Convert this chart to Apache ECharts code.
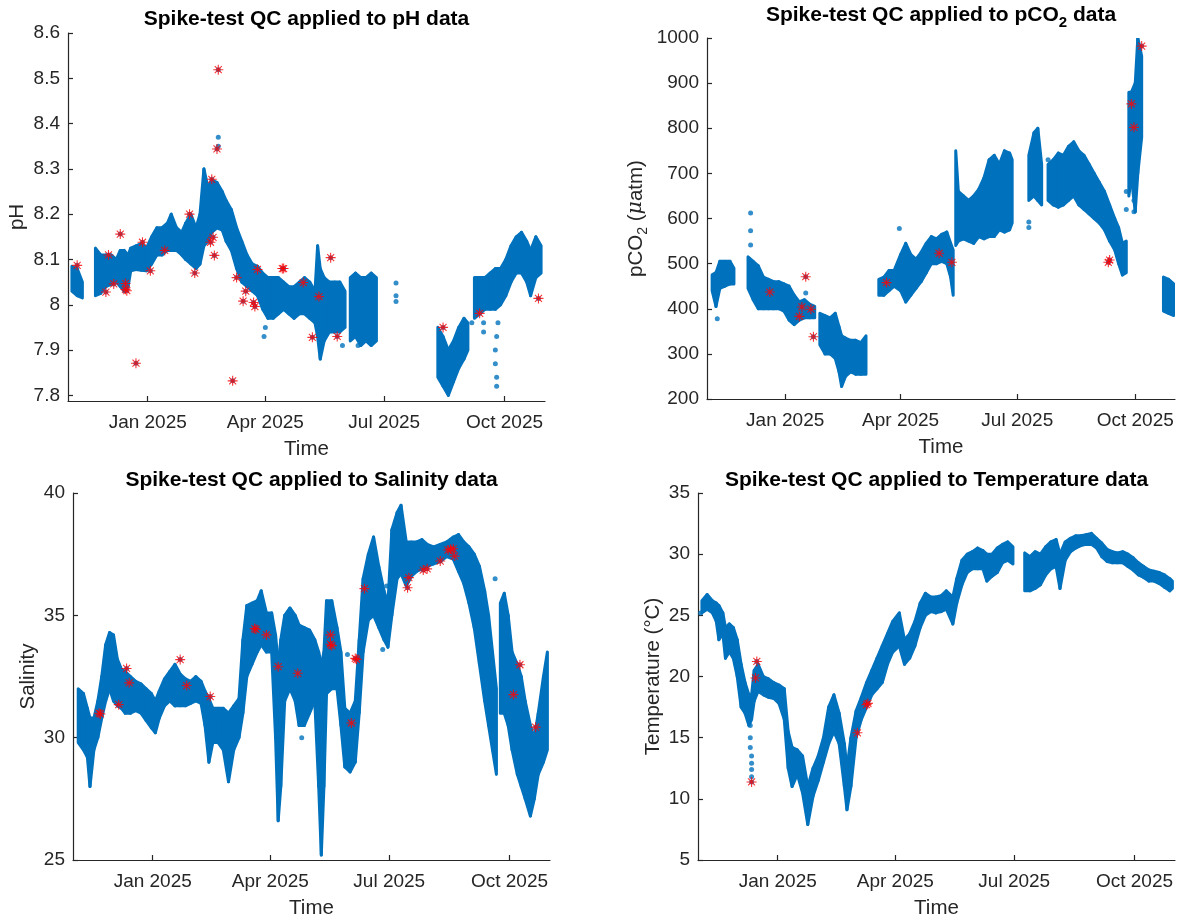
<!DOCTYPE html>
<html>
<head>
<meta charset="utf-8">
<script src="https://cdn.jsdelivr.net/npm/echarts@6/dist/echarts.min.js"></script>
<style>
html,body{margin:0;padding:0;background:#fff;}
#chart{width:1180px;height:920px;}
</style>
</head>
<body>
<div id="chart"></div>
<script>
// ---------- tick labels ----------
const monthTicks = ['2025-01-01', '2025-04-01', '2025-07-01', '2025-10-01'];
const monthLabels = ['Jan 2025', 'Apr 2025', 'Jul 2025', 'Oct 2025'];
const phTicks = [7.8, 7.9, 8, 8.1, 8.2, 8.3, 8.4, 8.5, 8.6];

// ---------- pH ----------
// cloud envelope: [date, low, high]; null = gap
const phBand = [
  ['2024-11-04', 8.03, 8.085], ['2024-11-08', 8.02, 8.08], ['2024-11-12', 8.015, 8.05], null,
  ['2024-11-22', 8.02, 8.125], ['2024-11-26', 8.025, 8.11], ['2024-11-30', 8.04, 8.11], ['2024-12-04', 8.045, 8.11],
  ['2024-12-08', 8.05, 8.1], ['2024-12-11', 8.04, 8.12], ['2024-12-14', 8.03, 8.12], ['2024-12-17', 8.04, 8.11],
  ['2024-12-19', 8.075, 8.125], ['2024-12-23', 8.078, 8.13], ['2024-12-27', 8.076, 8.135], ['2024-12-31', 8.075, 8.125],
  ['2025-01-04', 8.09, 8.15], ['2025-01-08', 8.11, 8.17], ['2025-01-12', 8.11, 8.17], ['2025-01-16', 8.12, 8.18],
  ['2025-01-19', 8.12, 8.2], ['2025-01-23', 8.12, 8.17], ['2025-01-27', 8.11, 8.16], ['2025-01-30', 8.1, 8.18],
  ['2025-02-03', 8.09, 8.2], ['2025-02-07', 8.08, 8.17], ['2025-02-10', 8.09, 8.2], ['2025-02-13', 8.13, 8.3],
  ['2025-02-16', 8.14, 8.26], ['2025-02-19', 8.16, 8.275], ['2025-02-23', 8.17, 8.27], ['2025-02-27', 8.165, 8.25],
  ['2025-03-02', 8.14, 8.23], ['2025-03-06', 8.12, 8.21], ['2025-03-10', 8.08, 8.17], ['2025-03-14', 8.05, 8.14],
  ['2025-03-18', 8.04, 8.11], ['2025-03-22', 8.03, 8.09], ['2025-03-26', 8.02, 8.085], ['2025-03-30', 7.99, 8.07],
  ['2025-04-03', 7.97, 8.06], ['2025-04-07', 7.97, 8.06], ['2025-04-11', 7.98, 8.06], ['2025-04-15', 7.99, 8.05],
  ['2025-04-19', 7.98, 8.04], ['2025-04-23', 7.97, 8.04], ['2025-04-27', 7.98, 8.05], ['2025-05-01', 7.98, 8.06],
  ['2025-05-05', 7.97, 8.05], ['2025-05-09', 7.96, 8.03], ['2025-05-11', 7.93, 8.13], ['2025-05-13', 7.88, 8.08],
  ['2025-05-16', 7.92, 8.06], ['2025-05-20', 7.94, 8.05], ['2025-05-24', 7.94, 8.05], ['2025-05-28', 7.94, 8.05],
  ['2025-06-01', 7.95, 8.03], null,
  ['2025-06-05', 7.92, 8.06], ['2025-06-09', 7.93, 8.07], ['2025-06-13', 7.91, 8.06], ['2025-06-17', 7.92, 8.06],
  ['2025-06-21', 7.91, 8.07], ['2025-06-25', 7.92, 8.06], null,
  ['2025-08-11', 7.84, 7.95], ['2025-08-15', 7.82, 7.93], ['2025-08-19', 7.8, 7.9], ['2025-08-23', 7.83, 7.92],
  ['2025-08-27', 7.86, 7.95], ['2025-08-31', 7.88, 7.97], ['2025-09-03', 7.9, 7.96], null,
  ['2025-09-08', 7.97, 8.06], ['2025-09-12', 7.98, 8.06], ['2025-09-16', 7.99, 8.06], ['2025-09-20', 7.99, 8.07],
  ['2025-09-24', 7.99, 8.08], ['2025-09-28', 8.0, 8.08], ['2025-10-02', 8.02, 8.1], ['2025-10-06', 8.05, 8.13],
  ['2025-10-10', 8.07, 8.15], ['2025-10-14', 8.07, 8.16], ['2025-10-18', 8.05, 8.14], ['2025-10-21', 8.02, 8.12],
  ['2025-10-25', 8.06, 8.15], ['2025-10-29', 8.07, 8.13]
];
const phDots = [
  ['2025-02-24', 8.37], ['2025-02-24', 8.35], ['2025-03-31', 7.93], ['2025-07-10', 8.048], ['2025-07-10', 8.02],
  ['2025-07-10', 8.007], ['2025-09-25', 7.82], ['2025-09-25', 7.84], ['2025-09-24', 7.87], ['2025-09-24', 7.9],
  ['2025-09-25', 7.93], ['2025-09-26', 7.96], ['2025-09-15', 7.96], ['2025-09-15', 7.94], ['2025-09-06', 7.96],
  ['2025-06-11', 7.91], ['2025-05-30', 7.91], ['2025-04-01', 7.95], ['2025-03-26', 8.04], ['2025-03-22', 8.05]
];
const phSpikes = [
  ['2024-11-08', 8.087], ['2024-11-30', 8.028], ['2024-12-02', 8.11], ['2024-12-06', 8.046], ['2024-12-11', 8.156],
  ['2024-12-15', 8.047], ['2024-12-15', 8.034], ['2024-12-16', 8.031], ['2024-12-23', 7.871], ['2024-12-28', 8.138],
  ['2025-01-03', 8.075], ['2025-01-14', 8.12], ['2025-02-02', 8.2], ['2025-02-06', 8.07], ['2025-02-19', 8.277],
  ['2025-02-18', 8.138], ['2025-02-20', 8.149], ['2025-02-21', 8.109], ['2025-02-23', 8.344], ['2025-02-24', 8.519],
  ['2025-03-07', 7.832], ['2025-03-10', 8.06], ['2025-03-15', 8.008], ['2025-03-17', 8.03], ['2025-03-23', 8.005],
  ['2025-03-24', 7.996], ['2025-03-26', 8.078], ['2025-04-07', 7.786], ['2025-04-14', 8.08], ['2025-04-15', 8.08],
  ['2025-04-30', 8.049], ['2025-05-07', 7.928], ['2025-05-12', 8.018], ['2025-05-21', 8.104], ['2025-05-26', 7.93],
  ['2025-08-15', 7.95], ['2025-09-12', 7.981], ['2025-10-27', 8.014]
];

// ---------- pCO2 ----------
const co2Band = [
  ['2024-11-05', 440, 475], ['2024-11-08', 405, 480], ['2024-11-11', 445, 505], ['2024-11-15', 450, 505],
  ['2024-11-19', 455, 505], ['2024-11-22', 455, 490], null,
  ['2024-12-03', 445, 515], ['2024-12-07', 420, 505], ['2024-12-11', 400, 495], ['2024-12-15', 400, 470],
  ['2024-12-19', 400, 465], ['2024-12-23', 400, 460], ['2024-12-27', 400, 460], ['2024-12-31', 395, 455],
  ['2025-01-04', 375, 450], ['2025-01-08', 365, 430], ['2025-01-12', 375, 415], ['2025-01-16', 380, 420],
  ['2025-01-20', 380, 410], ['2025-01-24', 380, 405], null,
  ['2025-01-28', 320, 390], ['2025-02-01', 300, 385], ['2025-02-05', 300, 380], ['2025-02-09', 290, 390],
  ['2025-02-12', 260, 360], ['2025-02-14', 228, 340], ['2025-02-17', 250, 335], ['2025-02-21', 260, 330],
  ['2025-02-25', 255, 330], ['2025-03-01', 255, 325], ['2025-03-05', 255, 340], null,
  ['2025-03-15', 430, 465], ['2025-03-19', 430, 470], ['2025-03-23', 440, 485], ['2025-03-27', 450, 485],
  ['2025-04-01', 440, 520], ['2025-04-05', 415, 545], ['2025-04-09', 430, 520], ['2025-04-13', 445, 510],
  ['2025-04-17', 460, 525], ['2025-04-21', 480, 545], ['2025-04-25', 500, 560], ['2025-04-29', 500, 555],
  ['2025-05-03', 505, 565], ['2025-05-07', 500, 570], ['2025-05-10', 470, 545], ['2025-05-12', 430, 530], null,
  ['2025-05-14', 540, 750], ['2025-05-16', 550, 660], ['2025-05-20', 555, 650], ['2025-05-24', 550, 640],
  ['2025-05-28', 545, 650], ['2025-06-01', 560, 665], ['2025-06-05', 555, 690], ['2025-06-09', 560, 730],
  ['2025-06-13', 560, 740], ['2025-06-17', 575, 720], ['2025-06-21', 570, 750], ['2025-06-25', 575, 745],
  ['2025-06-27', 590, 730], null,
  ['2025-07-10', 640, 740], ['2025-07-14', 650, 790], ['2025-07-17', 640, 800], ['2025-07-20', 630, 720], null,
  ['2025-07-25', 640, 720], ['2025-07-29', 630, 730], ['2025-08-02', 625, 745], ['2025-08-06', 630, 740],
  ['2025-08-10', 640, 760], ['2025-08-14', 650, 770], ['2025-08-18', 630, 750], ['2025-08-22', 620, 740],
  ['2025-08-26', 610, 720], ['2025-08-30', 600, 700], ['2025-09-03', 590, 680], ['2025-09-07', 575, 660],
  ['2025-09-11', 550, 630], ['2025-09-15', 530, 600], ['2025-09-18', 500, 580], ['2025-09-21', 475, 545],
  ['2025-09-24', 480, 550], null,
  ['2025-09-26', 650, 880], ['2025-09-28', 690, 880], ['2025-10-01', 615, 900], ['2025-10-03', 700, 1000],
  ['2025-10-06', 780, 960], null,
  ['2025-10-23', 395, 470], ['2025-10-27', 390, 465], ['2025-10-31', 385, 455]
];
const co2Dots = [
  ['2024-11-09', 378], ['2024-12-05', 612], ['2024-12-05', 573], ['2024-12-05', 541], ['2024-12-05', 500],
  ['2025-03-31', 578], ['2025-07-10', 580], ['2025-07-10', 592], ['2025-07-25', 730], ['2025-09-24', 660],
  ['2025-09-24', 620], ['2025-09-30', 640], ['2025-09-30', 615], ['2025-01-17', 435]
];
const co2Spikes = [
  ['2024-12-20', 437], ['2025-01-12', 383], ['2025-01-14', 404], ['2025-01-17', 471], ['2025-01-21', 399],
  ['2025-01-23', 338], ['2025-03-21', 458], ['2025-05-01', 523], ['2025-05-11', 503], ['2025-09-10', 503],
  ['2025-09-11', 508], ['2025-09-28', 854], ['2025-09-30', 802], ['2025-10-06', 982]
];

// ---------- Salinity ----------
const salBand = [
  ['2024-11-05', 29.8, 32], ['2024-11-09', 29.5, 31.8], ['2024-11-12', 29.2, 31.2], ['2024-11-14', 28, 30.8],
  ['2024-11-17', 29.5, 30.8], ['2024-11-20', 30, 31.5], ['2024-11-23', 30.8, 32.5], ['2024-11-26', 31.5, 33.8],
  ['2024-11-29', 32, 34.3], ['2024-12-02', 31.5, 34.2], ['2024-12-05', 31.3, 33.2], ['2024-12-08', 31.2, 32.8],
  ['2024-12-11', 31, 32.7], ['2024-12-15', 31, 32.5], ['2024-12-19', 31.1, 32.3], ['2024-12-23', 31, 32.2],
  ['2024-12-27', 30.7, 32], ['2024-12-31', 30.4, 31.8], ['2025-01-03', 30.2, 31.5], ['2025-01-06', 30.8, 31.9],
  ['2025-01-10', 31.3, 32.4], ['2025-01-14', 31.5, 32.7], ['2025-01-18', 31.3, 33], ['2025-01-22', 31.3, 32.6],
  ['2025-01-26', 31.3, 32.4], ['2025-01-30', 31.4, 32.3], ['2025-02-03', 31.5, 32.5], ['2025-02-07', 31.4, 32.3],
  ['2025-02-10', 30.5, 31.9], ['2025-02-13', 29, 31.6], ['2025-02-16', 29.8, 31.2], ['2025-02-20', 29.8, 31.2],
  ['2025-02-24', 29.5, 31.2], ['2025-02-28', 28.2, 31], ['2025-03-04', 29.5, 31.3], ['2025-03-08', 30, 31.6],
  ['2025-03-11', 31, 34], ['2025-03-14', 32.5, 35.4], ['2025-03-18', 33, 35.5], ['2025-03-22', 33.5, 35.6],
  ['2025-03-25', 33.8, 36], ['2025-03-29', 33.5, 35.1], ['2025-04-02', 33.5, 35.1], ['2025-04-05', 30, 34.2],
  ['2025-04-07', 26.6, 33], ['2025-04-09', 28, 34], ['2025-04-12', 31.5, 35], ['2025-04-16', 32, 35.3],
  ['2025-04-20', 31.5, 35], ['2025-04-23', 30.5, 34.6], ['2025-04-27', 30.5, 34.5], ['2025-05-01', 31, 34.4],
  ['2025-05-05', 31.5, 34], ['2025-05-08', 28, 33.5], ['2025-05-10', 25.2, 33], ['2025-05-12', 28, 33.5],
  ['2025-05-14', 31.8, 35.6], ['2025-05-18', 32, 35.6], ['2025-05-22', 32, 34.5], ['2025-05-25', 30.5, 33.5],
  ['2025-05-28', 28.8, 31.2], ['2025-06-01', 28.6, 31], ['2025-06-05', 29, 31.5], ['2025-06-08', 31, 34],
  ['2025-06-11', 33.5, 36.5], ['2025-06-15', 34.8, 37.5], ['2025-06-19', 35, 38.2], ['2025-06-23', 34.5, 37],
  ['2025-06-27', 34, 36], ['2025-06-30', 33.7, 35.5], ['2025-07-03', 35, 38.5], ['2025-07-07', 36.5, 39.2],
  ['2025-07-10', 36.7, 39.5], ['2025-07-14', 36.2, 38], ['2025-07-18', 36.6, 38], ['2025-07-22', 36.8, 38],
  ['2025-07-26', 36.9, 38.1], ['2025-07-30', 37, 37.9], ['2025-08-04', 37.1, 37.8], ['2025-08-09', 37.2, 37.9],
  ['2025-08-14', 37.4, 38], ['2025-08-19', 37.3, 38.2], ['2025-08-23', 36.8, 38.3], ['2025-08-27', 36.3, 38],
  ['2025-08-31', 35.5, 37.8], ['2025-09-04', 34.5, 37.5], ['2025-09-08', 33, 37], ['2025-09-12', 31.5, 36],
  ['2025-09-15', 30.5, 35], ['2025-09-18', 29.5, 33.5], ['2025-09-21', 28.5, 32], null,
  ['2025-09-24', 31, 35.5], ['2025-09-27', 31, 35.9], ['2025-09-30', 30.5, 35], ['2025-10-03', 29.5, 33.5],
  ['2025-10-07', 28.5, 33], ['2025-10-10', 28, 32.5], ['2025-10-13', 27.5, 31.5], ['2025-10-17', 26.8, 30.5],
  ['2025-10-20', 27.5, 30], ['2025-10-23', 28.5, 31], ['2025-10-27', 29, 32.5], ['2025-10-30', 29.5, 33.5]
];
const salDots = [
  ['2025-04-25', 30], ['2025-05-30', 33.4], ['2025-09-20', 36.5], ['2025-06-29', 36.2], ['2025-06-26', 33.6]
];
const salSpikes = [
  ['2024-11-21', 31.0], ['2024-11-22', 30.97], ['2024-12-06', 31.35], ['2024-12-12', 32.83], ['2024-12-14', 32.24],
  ['2025-01-22', 33.19], ['2025-01-27', 32.13], ['2025-02-14', 31.68], ['2025-03-20', 34.46], ['2025-03-21', 34.43],
  ['2025-03-29', 34.2], ['2025-04-07', 32.9], ['2025-04-22', 32.63], ['2025-05-17', 34.2], ['2025-05-17', 33.82],
  ['2025-05-18', 33.76], ['2025-06-02', 30.6], ['2025-06-05', 33.24], ['2025-06-06', 33.2], ['2025-06-12', 36.09],
  ['2025-07-15', 36.13], ['2025-07-16', 36.54], ['2025-07-27', 36.85], ['2025-07-30', 36.9], ['2025-08-09', 37.22],
  ['2025-08-15', 37.67], ['2025-08-17', 37.7], ['2025-08-19', 37.72], ['2025-08-20', 37.42], ['2025-10-04', 31.76],
  ['2025-10-09', 32.98], ['2025-10-21', 30.43]
];

// ---------- Temperature ----------
const tempBand = [
  ['2024-11-04', 25.2, 26.2], ['2024-11-08', 25.5, 26.7], ['2024-11-12', 25.2, 26.2], ['2024-11-15', 24.5, 26],
  ['2024-11-17', 23, 25.8], ['2024-11-20', 23.5, 25.2], ['2024-11-22', 21.5, 24], ['2024-11-25', 22, 24.3],
  ['2024-11-28', 21.5, 24], ['2024-12-01', 20, 23], ['2024-12-04', 17.5, 21], ['2024-12-07', 17, 19.5],
  ['2024-12-10', 16, 18.5], ['2024-12-12', 16.5, 18.5], ['2024-12-14', 18, 20.5], ['2024-12-17', 18.8, 21],
  ['2024-12-21', 18.5, 20], ['2024-12-25', 18.3, 19.8], ['2024-12-29', 18.2, 19.5], ['2025-01-02', 17.8, 19.3],
  ['2025-01-06', 16.5, 19], ['2025-01-09', 12.5, 15.5], ['2025-01-12', 11, 14.2], ['2025-01-16', 12, 14],
  ['2025-01-20', 10.5, 13.5], ['2025-01-24', 7.9, 11], ['2025-01-28', 10.2, 12.5], ['2025-02-01', 11.5, 13.5],
  ['2025-02-05', 13, 15], ['2025-02-09', 14.5, 17.5], ['2025-02-13', 15.5, 18.5], ['2025-02-17', 14.5, 17],
  ['2025-02-21', 11, 14.5], ['2025-02-23', 9.1, 12.5], ['2025-02-26', 11, 15], ['2025-03-02', 15, 17.2],
  ['2025-03-06', 16.5, 18.3], ['2025-03-10', 17.5, 19.5], ['2025-03-14', 18.5, 20.5], ['2025-03-18', 19, 21.5],
  ['2025-03-22', 19.5, 22.5], ['2025-03-26', 21, 23.5], ['2025-03-30', 22, 24.5], ['2025-04-04', 22.5, 25.2],
  ['2025-04-08', 21, 23], ['2025-04-12', 21.5, 23.5], ['2025-04-16', 22.5, 24.5], ['2025-04-20', 24, 26],
  ['2025-04-24', 25, 26.8], ['2025-04-28', 25.3, 26.5], ['2025-05-02', 25.2, 26.5], ['2025-05-06', 25.3, 26.6],
  ['2025-05-10', 25.5, 27], ['2025-05-15', 24.3, 26.5], ['2025-05-18', 26, 28], ['2025-05-22', 27.5, 29.5],
  ['2025-05-26', 28.5, 30], ['2025-05-30', 28.8, 30.2], ['2025-06-03', 28.8, 30.5], ['2025-06-07', 28.8, 30.3],
  ['2025-06-10', 27.8, 30], ['2025-06-14', 28.2, 30], ['2025-06-18', 28.5, 30.5], ['2025-06-22', 29.3, 30.8],
  ['2025-06-26', 29.5, 31], ['2025-06-30', 29.2, 30.6], null,
  ['2025-07-09', 27, 30.1], ['2025-07-13', 27, 29.8], ['2025-07-17', 27.2, 30.2], ['2025-07-21', 27.5, 30],
  ['2025-07-25', 28.3, 30.6], ['2025-07-29', 28.8, 31], ['2025-08-02', 29, 31.2], ['2025-08-05', 27.2, 30],
  ['2025-08-09', 29.5, 31], ['2025-08-13', 30.2, 31.3], ['2025-08-17', 30.5, 31.5], ['2025-08-21', 30.7, 31.5],
  ['2025-08-25', 30.8, 31.6], ['2025-08-29', 30.8, 31.7], ['2025-09-02', 30.5, 31.3], ['2025-09-06', 29.8, 30.9],
  ['2025-09-10', 29.4, 30.4], ['2025-09-14', 29.3, 30.2], ['2025-09-18', 29.3, 30.1], ['2025-09-22', 29.3, 30.2],
  ['2025-09-26', 29, 30], ['2025-09-30', 28.7, 29.7], ['2025-10-04', 28.3, 29.3], ['2025-10-08', 28.1, 29],
  ['2025-10-12', 27.8, 28.7], ['2025-10-16', 27.8, 28.6], ['2025-10-20', 27.6, 28.5], ['2025-10-24', 27.3, 28.3],
  ['2025-10-28', 27, 28], ['2025-10-30', 27.2, 27.8]
];
const tempDots = [
  ['2024-12-11', 16], ['2024-12-11', 15], ['2024-12-11', 14.2], ['2024-12-12', 13.5], ['2024-12-12', 12.9],
  ['2024-12-12', 12.4], ['2024-12-12', 11.8], ['2024-11-03', 25.2]
];
const tempSpikes = [
  ['2024-12-12', 11.38], ['2024-12-15', 19.88], ['2024-12-16', 21.23], ['2025-03-03', 15.4], ['2025-03-10', 17.7],
  ['2025-03-11', 17.8]
];

// ---------- rendering ----------
const BLUE = '#0072BD', RED = '#FF0000', AX = '#262626';
const FONT = '"Liberation Sans", Arial, Helvetica, sans-serif';
const X0 = Date.parse('2024-11-01'), X1 = Date.parse('2025-11-01');
const tickMs = monthTicks.map(d => Date.parse(d));

function quads(band) {
  const out = [];
  for (let i = 0; i + 1 < band.length; i++) {
    const a = band[i], b = band[i + 1];
    if (!a || !b) continue;
    out.push([Date.parse(a[0]), a[1], a[2], Date.parse(b[0]), b[1], b[2]]);
  }
  return out;
}
function pts(arr) { return arr.map(p => [Date.parse(p[0]), p[1]]); }

const panels = [
  { title: 'Spike-test QC applied to pH data', yName: 'pH', band: phBand, dots: phDots, spikes: phSpikes,
    grid: { left: 68, top: 33, width: 477, height: 368 }, titleTop: 7, yMin: 7.7875, yMax: 8.6, ticks: phTicks, nameGap: 31 },
  { title: 'Spike-test QC applied to pCO{sub|2} data', yName: 'pCO{sub|2} ({mu|μ}atm)', band: co2Band, dots: co2Dots, spikes: co2Spikes,
    grid: { left: 707, top: 38, width: 468, height: 361 }, titleTop: 0, yMin: 200, yMax: 1000, interval: 100, nameGap: 57, rich: true },
  { title: 'Spike-test QC applied to Salinity data', yName: 'Salinity', band: salBand, dots: salDots, spikes: salSpikes,
    grid: { left: 73, top: 493, width: 477, height: 369 }, titleTop: 468, yMin: 25, yMax: 40, interval: 5, nameGap: 30 },
  { title: 'Spike-test QC applied to Temperature data', yName: 'Temperature (°C)', band: tempBand, dots: tempDots, spikes: tempSpikes,
    grid: { left: 698, top: 493, width: 477, height: 369 }, titleTop: 468, yMin: 5, yMax: 35, interval: 5, nameGap: 31 }
];

const richStyles = {
  sub: { fontSize: 14, fontFamily: FONT, verticalAlign: 'bottom', lineHeight: 14 },
  mu: { fontStyle: 'italic', fontSize: 20.5, fontFamily: 'DejaVu Serif, serif', color: AX }
};

const ASTERISK = 'path://M5,0L5,10M0,5L10,5M1.5,1.5L8.5,8.5M1.5,8.5L8.5,1.5';

const option = { backgroundColor: '#fff', animation: false, grid: [], xAxis: [], yAxis: [], title: [], series: [] };

panels.forEach((p, i) => {
  option.grid.push(Object.assign({ containLabel: false }, p.grid));
  option.title.push({
    text: p.title, left: p.grid.left + p.grid.width / 2, top: p.titleTop, textAlign: 'center', padding: 0,
    textStyle: {
      fontSize: 21, fontWeight: 'bold', color: '#000', fontFamily: FONT, lineHeight: p.rich ? 30 : 25,
      rich: p.rich ? { sub: { fontSize: 15, fontWeight: 'bold', fontFamily: FONT, color: '#000', verticalAlign: 'bottom', lineHeight: 14 } } : undefined
    }
  });
  option.xAxis.push({
    type: 'value', gridIndex: i, min: X0, max: X1,
    axisLine: { show: true, onZero: false, lineStyle: { color: AX, width: 1.2 } },
    axisTick: { show: true, inside: true, length: 5, customValues: tickMs, lineStyle: { color: AX, width: 1.2 } },
    axisLabel: { customValues: tickMs, color: AX, fontSize: 19, fontFamily: FONT, margin: 12,
      formatter: v => monthLabels[tickMs.indexOf(v)] || '' },
    splitLine: { show: false },
    name: 'Time', nameLocation: 'middle', nameGap: 38,
    nameTextStyle: { fontSize: 20.5, color: AX, fontFamily: FONT }
  });
  const yAx = {
    type: 'value', gridIndex: i, min: p.yMin, max: p.yMax,
    axisLine: { show: true, onZero: false, lineStyle: { color: AX, width: 1.2 } },
    axisTick: { show: true, inside: true, length: 5, lineStyle: { color: AX, width: 1.2 } },
    axisLabel: { color: AX, fontSize: 19, fontFamily: FONT, margin: 8, formatter: v => String(Math.round(v * 10) / 10) },
    splitLine: { show: false },
    name: p.yName, nameLocation: 'middle', nameGap: p.nameGap, nameRotate: 90,
    nameTextStyle: { fontSize: 20.5, color: AX, fontFamily: FONT, lineHeight: p.rich ? 28 : 24, rich: p.rich ? richStyles : undefined }
  };
  if (p.ticks) { yAx.axisLabel.customValues = p.ticks; yAx.axisTick.customValues = p.ticks; }
  else { yAx.interval = p.interval; }
  option.yAxis.push(yAx);

  option.series.push({
    type: 'custom', xAxisIndex: i, yAxisIndex: i, coordinateSystem: 'cartesian2d', silent: true, clip: true,
    data: quads(p.band), encode: { x: [0, 3], y: [1, 2, 4, 5] },
    renderItem: (params, api) => {
      const a = api.coord([api.value(0), api.value(1)]);
      const b = api.coord([api.value(3), api.value(4)]);
      const c = api.coord([api.value(3), api.value(5)]);
      const d = api.coord([api.value(0), api.value(2)]);
      return { type: 'polygon', shape: { points: [a, b, c, d] },
        style: { fill: BLUE, stroke: BLUE, lineWidth: 3, lineJoin: 'round' } };
    }
  });
  option.series.push({
    type: 'scatter', xAxisIndex: i, yAxisIndex: i, silent: true, symbol: 'circle', symbolSize: 5,
    itemStyle: { color: BLUE }, data: pts(p.dots).concat(pts(p.spikes))
  });
  option.series.push({
    type: 'scatter', xAxisIndex: i, yAxisIndex: i, silent: true, symbol: ASTERISK, symbolSize: 10, z: 5,
    itemStyle: { color: 'rgba(0,0,0,0)', borderColor: RED, borderWidth: 1.1 }, data: pts(p.spikes)
  });
});

const chart = echarts.init(document.getElementById('chart'), null, { renderer: 'canvas' });
chart.setOption(option);
</script>
</body>
</html>
